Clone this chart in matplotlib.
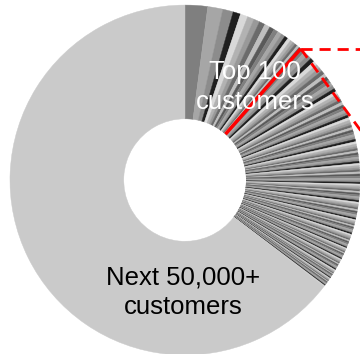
import numpy as np
import matplotlib.pyplot as plt

# revenue share per customer (relative units, pie normalises)
top100_share = [7.5, 5.0, 3.5, 2.5, 2.5, 2.2, 2.0, 2.0, 1.8, 1.6,
                1.5, 1.4, 1.3, 1.2, 1.1, 1.0, 0.9, 0.9, 0.8, 0.7]
next_share = [1.6, 1.5, 1.5, 1.4, 1.4, 1.3, 1.3, 1.3, 1.2, 1.2,
              1.2, 1.1, 1.1, 1.1, 1.0, 1.0, 1.0, 1.0, 1.0, 0.9,
              0.9, 0.9, 0.9, 0.9, 0.9, 0.9, 0.8, 0.8, 0.8, 0.8,
              0.8, 0.8, 0.8, 0.8, 0.8, 0.8, 0.7, 0.7, 0.7, 0.7,
              0.7, 0.7, 0.7, 0.7, 0.7, 0.7, 0.7, 0.7, 0.7, 0.7,
              0.7, 0.7, 0.6, 0.6, 0.6, 0.6, 0.6, 0.6, 0.6, 0.6,
              0.6, 0.6, 0.6, 0.6, 0.6, 0.6, 0.6, 0.6, 0.6, 0.6,
              0.6, 0.6, 0.5, 0.5, 0.5, 0.5, 0.5, 0.5, 0.5, 0.5,
              0.5, 0.5, 0.5, 0.5, 0.5, 0.5, 0.5, 0.5, 0.5, 0.5,
              0.5, 0.5, 0.4, 0.4, 0.4, 0.4, 0.4, 0.4, 0.4, 0.4,
              0.4, 0.4, 0.4, 0.4, 0.4, 0.4, 0.4, 0.4, 0.4, 0.4,
              0.4, 0.4, 0.4, 0.4, 0.4, 0.4, 0.3, 0.3, 0.3, 0.3,
              0.3, 0.3, 0.3, 0.3, 0.3, 0.3, 0.3, 0.3, 0.3, 0.3,
              0.3, 0.3, 0.3, 0.3, 0.3]
rest_share = 232.6

top_label = 'Top 100\ncustomers'
rest_label = 'Next 50,000+\ncustomers'

GRAYS = ['#7f7f7f', '#a6a6a6', '#8c8c8c', '#1f1f1f', '#d9d9d9',
         '#b2b2b2', '#999999', '#6b6b6b', '#bfbfbf', '#595959']
REST_COLOR = '#cacaca'

plt.rcParams['font.family'] = ['Liberation Sans', 'DejaVu Sans']

values = top100_share + next_share + [rest_share]
colors = [GRAYS[i % len(GRAYS)] for i in range(len(values) - 1)] + [REST_COLOR]

fig = plt.figure(figsize=(3.6, 3.54), dpi=100)
ax = fig.add_axes([0, 0, 1, 1])
wedges, _ = ax.pie(values, colors=colors, startangle=90, counterclock=False, radius=1.0,
                   wedgeprops=dict(width=0.65, linewidth=0.3))
for w in wedges:
    w.set_edgecolor(w.get_facecolor())

# boundary of the top 100 block
total = sum(values)
theta = np.deg2rad(360 * sum(top100_share) / total)
sx, sy = np.sin(theta), np.cos(theta)
ax.plot([0.35 * sx, sx], [0.35 * sy, sy], color='red', lw=2.5, solid_capstyle='butt')
ax.plot([sx, 1.3], [sy, sy], color='red', lw=2, ls=(0, (4, 2.5)), clip_on=True)
ax.plot([sx, sx + 0.55], [sy, sy - 0.75], color='red', lw=2, ls=(0, (4, 2.5)), clip_on=True)

ax.text(0.40, 0.53, top_label, color='white', fontsize=18.5, ha='center', va='center',
        linespacing=1.3)
ax.text(-0.01, -0.64, rest_label, color='black', fontsize=18.5, ha='center', va='center',
        linespacing=1.3)

ax.set_xlim(-1.057, 1.0)
ax.set_ylim(-0.994, 1.029)
ax.set_aspect('auto')
ax.axis('off')

fig.savefig('out.png', dpi=100)
